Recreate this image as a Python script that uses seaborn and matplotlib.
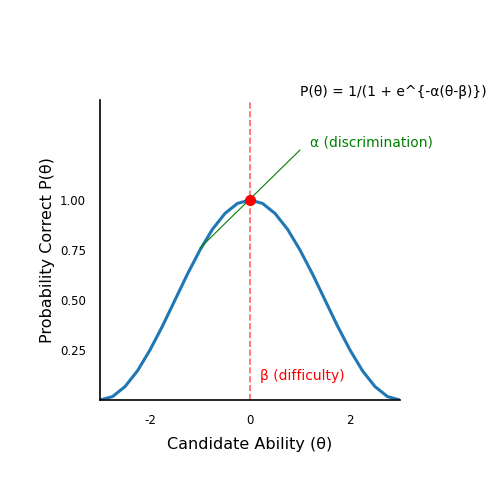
import numpy as np
import matplotlib.pyplot as plt
import seaborn as sns

sns.set_style('white')
plt.rcParams['text.color'] = 'black'
plt.rcParams['axes.labelcolor'] = 'black'
plt.rcParams['xtick.color'] = 'black'
plt.rcParams['ytick.color'] = 'black'

# curve values
theta = [-3, -2.75, -2.5, -2.25, -2, -1.75, -1.5, -1.25, -1, -0.75, -0.5, -0.25, 0,
         0.25, 0.5, 0.75, 1, 1.25, 1.5, 1.75, 2, 2.25, 2.5, 2.75, 3]
prob = [0, 0.017, 0.067, 0.146, 0.25, 0.37, 0.5, 0.63, 0.75, 0.854, 0.933, 0.983, 1,
        0.983, 0.933, 0.854, 0.75, 0.63, 0.5, 0.37, 0.25, 0.146, 0.067, 0.017, 0]
tangent_x = [-1, 1]
tangent_y = [0.76, 1.25]
beta = 0

fig = plt.figure(figsize=(5, 5), dpi=100)
ax = fig.add_axes([0.2, 0.2, 0.6, 0.6])

sns.lineplot(x=theta, y=prob, ax=ax, color='#1f77b4', linewidth=2.2)
ax.axvline(beta, color='red', linestyle='--', alpha=0.6, linewidth=1.2)
ax.plot(tangent_x, tangent_y, color='green', linewidth=0.8)
ax.plot([beta], [1], 'o', color='red', markersize=7)

ax.text(1, 1.52, 'P(θ) = 1/(1 + e^{-α(θ-β)})', fontsize=10)
ax.text(1.2, 1.27, 'α (discrimination)', color='green', fontsize=10)
ax.text(0.2, 0.1, 'β (difficulty)', color='red', fontsize=10)

ax.set_xlim(-3, 3)
ax.set_ylim(0, 1.5)
ax.set_xticks([-2, 0, 2])
ax.set_xticklabels(['-2', '0', '2'])
ax.set_yticks([0.25, 0.5, 0.75, 1.0])
ax.tick_params(labelsize=8.5, length=0, pad=10)
for s in ['top', 'right']:
    ax.spines[s].set_visible(False)
for s in ['left', 'bottom']:
    ax.spines[s].set_color('black')
    ax.spines[s].set_linewidth(1.2)
ax.set_xlabel('Candidate Ability (θ)', fontsize=11.5, labelpad=7)
ax.set_ylabel('Probability Correct P(θ)', fontsize=11.5)

fig.savefig('out.png', dpi=100)
